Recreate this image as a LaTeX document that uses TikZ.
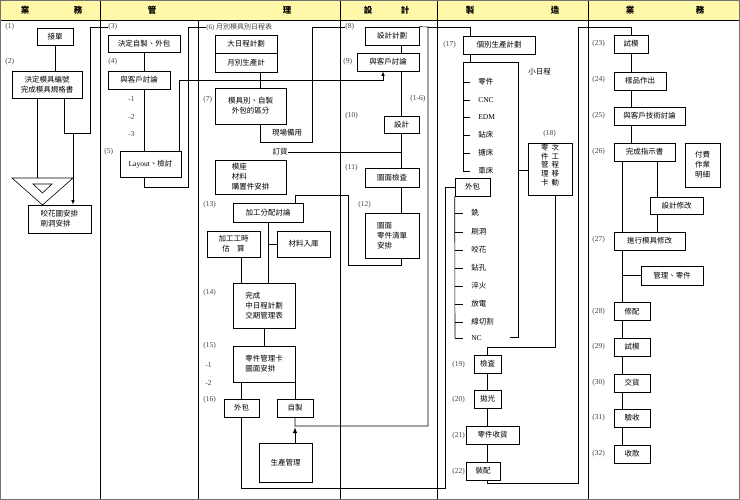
\documentclass[tikz,border=0pt]{standalone}
\usepackage{fontspec}
\setmainfont{Liberation Serif}
\newfontfamily\cjk{Noto Sans CJK TC}
\usetikzlibrary{calc, positioning, arrows}
\definecolor{headyellow}{HTML}{FFF8A8}

\begin{document}
\begin{tikzpicture}[x=1pt, y=-1pt, line width=.6pt,
  box/.style={draw, fill=white, inner sep=1pt, font=\cjk\fontsize{7.5}{10}\selectfont, align=center},
  num/.style={anchor=west, inner sep=0pt, font=\fontsize{7.5}{8}\selectfont, text=black!75},
  item/.style={anchor=west, inner sep=0pt, font=\cjk\fontsize{7.5}{9}\selectfont},
  head/.style={font=\cjk\bfseries\fontsize{8.5}{9}\selectfont}]
  \useasboundingbox (0,0) rectangle (740,500);
  % header and columns
  \fill[headyellow] (0,0) rectangle (740,20);
  \draw (0,20) -- (740,20);
  \foreach \x in {100,340,437,588} \draw (\x,0) -- (\x,500);
  \draw (198,20) -- (198,500);
  \draw[black!55, line width=1.5pt] (0,0) rectangle (740,500);
  \foreach \x/\t in {25/業, 78/務, 152/管, 287/理, 368/設, 405/計, 470/製, 555/造, 630/業, 700/務}
    \node[head] at (\x,10) {\t};

  % sales
  \node[num] (n1) at (5,27) {(1)};
  \node[box, minimum width=36, minimum height=17] (op) at (55,36.5) {接單};
  \node[num] (n2) at (5,62) {(2)};
  \node[box, minimum width=70, minimum height=27] (spec) at (47,84.5) {決定模具編號\\完成模具規格書};
  \coordinate (tri) at (37,178);
  \draw (12,178) -- (73,178) -- (42.5,205) -- cycle;
  \draw (33,184) -- (52,184) -- (42.5,193) -- cycle;
  \node[box, minimum width=63, minimum height=28, align=left] (knurl) at (59.5,219) {咬花圖安排\\刷洞安排};

  % management
  \node[num] (n3) at (108,27) {(3)};
  \node[box, minimum width=72, minimum height=17] (decide) at (144,43.5) {決定自製、外包};
  \node[num] (n4) at (108,62) {(4)};
  \node[box, minimum width=62, minimum height=18] (cust1) at (139,80) {與客戶討論};
  \foreach \y/\t in {99/-1, 117/-2, 134/-3} \node[num] at (128,\y) {\t};
  \node[num] (n5) at (104,152) {(5)};
  \node[box, minimum width=61, minimum height=26] (layout) at (150.5,164) {{\rmfamily Layout}、檢討};
  \node[num, font=\cjk\fontsize{7}{8}\selectfont] (n6) at (206,27) {{\rmfamily(6)} 月別模具別日程表};
  \node[box, minimum width=62, minimum height=18] (plan) at (246,44) {大日程計劃};
  \node[box, minimum width=62, minimum height=19] (month) at (246,62.5) {月別生產計};
  \node[num] (n7) at (203,100) {(7)};
  \node[box, minimum width=71, minimum height=36] (split) at (250.5,106) {模具別、自製\\外包的區分};
  \node[item, anchor=center] (spare) at (287,133) {現場備用};
  \node[item, anchor=center] (order) at (280,152) {訂貨};
  \node[box, minimum width=71, minimum height=34, align=left] (mold) at (250.5,177) {模座\\材料\\購置件安排};
  \node[num] (n13) at (203,205) {(13)};
  \node[box, minimum width=70, minimum height=19] (alloc) at (268,212.5) {加工分配討論};
  \node[box, minimum width=53, minimum height=26] (hours) at (233.5,244) {加工工時\\估\quad 算};
  \node[box, minimum width=53, minimum height=26] (stock) at (303.5,244) {材料入庫};
  \node[num] (n14) at (203,293) {(14)};
  \node[box, minimum width=62, minimum height=45, align=left] (mid) at (264,305.5) {完成\\中日程計劃\\交期管理表};
  \node[num] (n15) at (203,346) {(15)};
  \node[box, minimum width=62, minimum height=36, align=left] (card) at (264,364) {零件管理卡\\圖面安排};
  \node[num] at (205,365) {-1};
  \node[num] at (205,383) {-2};
  \node[num] (n16) at (203,400) {(16)};
  \node[box, minimum width=35, minimum height=18] (outs) at (241.5,408) {外包};
  \node[box, minimum width=36, minimum height=18] (self) at (295,408) {自製};
  \node[box, minimum width=53, minimum height=39, line width=1pt] (prod) at (285.5,462.5) {生產管理};

  % design
  \node[num] (n8) at (345,27) {(8)};
  \node[box, minimum width=54, minimum height=18] (dplan) at (392,36) {設計計劃};
  \node[num] (n9) at (343,62) {(9)};
  \node[box, minimum width=62, minimum height=18] (cust2) at (388,62) {與客戶討論};
  \node[num] (n1to6) at (410,99) {(1-6)};
  \node[num] (n10) at (345,116) {(10)};
  \node[box, minimum width=35, minimum height=17] (design) at (401.5,124.5) {設計};
  \node[num] (n11) at (345,168) {(11)};
  \node[box, minimum width=54, minimum height=19] (check) at (392,177.5) {圖面檢査};
  \node[num] (n12) at (358,205) {(12)};
  \node[box, minimum width=54, minimum height=45, align=left] (drw) at (392,235.5) {圖面\\零件清單\\安排};

  % manufacturing
  \node[num] (n17) at (443,45) {(17)};
  \node[box, minimum width=72, minimum height=18] (prodplan) at (499,45) {個別生產計劃};
  \node[item] (small) at (528,72) {小日程};
  \node[num] (n18) at (543,134) {(18)};
  \node[box, minimum width=44, minimum height=52, font=\cjk\fontsize{7.5}{8}\selectfont] (card2) at (550,169)
    {\begin{tabular}{@{}c@{\hspace{3pt}}c@{}}零&次\\件&工\\管&程\\理&移\\卡&動\end{tabular}\\[5pt]};
  \node[box, minimum width=35, minimum height=18] (outm) at (472.5,187) {外包};
  \node[num] (n19) at (452,365) {(19)};
  \node[box, minimum width=27, minimum height=18] (insp) at (487.5,364) {檢査};
  \node[num] (n20) at (452,400) {(20)};
  \node[box, minimum width=27, minimum height=18] (polish) at (487.5,399) {拋光};
  \node[num] (n21) at (452,436) {(21)};
  \node[box, minimum width=53, minimum height=18] (recv) at (492.5,435) {零件收貨};
  \node[num] (n22) at (452,472) {(22)};
  \node[box, minimum width=34, minimum height=18] (asm) at (483,471) {裝配};
  \draw (463,171) -- (463,62) -- (518,62) -- (518,337) -- (510,337);
  \foreach \y/\t [count=\i] in {82/零件, 100/{\rmfamily CNC}, 117/{\rmfamily EDM}, 135/鉆床, 153/搪床, 171/車床} {
    \draw (463,\y) -- (470,\y);
    \node[item] (it\i) at (478,\y) {\t};
  }
  \draw (outm.south west) -- (455,338);
  \foreach \y/\t [count=\i] in {213/銑, 232/刷洞, 250/咬花, 268/鉆孔, 286/淬火, 304/放電, 322/線切割, 338/{\rmfamily NC}} {
    \draw (455,\y) -- (463,\y);
    \node[item] (ot\i) at (471,\y) {\t};
  }

  % sales, right
  \node[num] (n23) at (592,44) {(23)};
  \node[box, minimum width=34, minimum height=18] (trial1) at (631,44) {試模};
  \node[num] (n24) at (592,80) {(24)};
  \node[box, minimum width=52, minimum height=18] (sample) at (640,81) {樣品作出};
  \node[num] (n25) at (592,116) {(25)};
  \node[box, minimum width=71, minimum height=18] (tech) at (649.5,116) {與客戶技術討論};
  \node[num] (n26) at (592,152) {(26)};
  \node[box, minimum width=61, minimum height=18] (instr) at (644.5,152) {完成指示書};
  \node[box, minimum width=35, minimum height=44] (fee) at (702.5,165) {付費\\作業\\明細};
  \node[box, minimum width=53, minimum height=17] (dmod) at (676.5,205.5) {設計修改};
  \node[num] (n27) at (592,240) {(27)};
  \node[box, minimum width=71, minimum height=18] (mmod) at (649.5,241) {進行模具修改};
  \node[box, minimum width=62, minimum height=19] (mgmt) at (672,275.5) {管理、零件};
  \foreach \y/\n/\t/\k in {311.5/fit/修配/28, 347/trial2/試模/29, 383/deliver/交貨/30, 418/accept/驗收/31, 454/pay/收款/32} {
    \node[num] (n\k) at (592,\y) {(\k)};
    \node[box, minimum width=36, minimum height=18] (\n) at (632,\y) {\t};
  }

  % connectors
  \draw (op.south) -- (op.south |- spec.north);
  \draw (spec.south -| tri) -- (tri);
  \coordinate (s2) at (73,133);
  \draw ($(spec.south)+(17,0)$) |- (90,133) |- (n3.west);
  \draw[-latex] (s2) -- (knurl.north -| s2);
  \draw (decide.south) -- (decide.south |- cust1.north);
  \draw (decide.south |- cust1.south) -- (decide.south |- layout.north);
  \draw (decide.south |- layout.south) -- ++(0,10) -| (188,27) -- (n6.west);
  \draw[-latex] ($(layout.north east)+(-2,0)$) |- ($(cust2.south)+(-5,9)$) -- ($(cust2.south)+(-5,0)$);
  \draw ($(month.south)+(14,0)$) -- ($(split.north)+(9.5,0)$);
  \draw ($(split.south)+(9.5,0)$) |- (312,142) |- (n8.west);
  \draw (order.east) -- (order.east -| design.south);
  \draw (drw.south -| design) |- (348,265) |- (295,195) -- ($(alloc.north)+(27,0)$);
  \draw (alloc.south) -- (alloc.south |- mid.north);
  \draw (alloc.south |- stock.west) -- (stock.west);
  \draw (hours.south -| outs) -- (mid.north -| outs);
  \draw (mid.south) -- (card.north);
  \draw (card.south -| outs) -- (outs.north);
  \draw (card.south -| self) -- (self.north);
  \coordinate (j8) at (428,27);
  \draw (self.south) |- (428,426) -- (j8) -- (dplan.north east);
  \draw (j8) -| (prodplan.north -| 470,0);
  \draw[-latex, line width=1pt] (prod.north -| self) -- ($(self.south)+(0,10)$);
  \draw (outs.south) |- (445,488) |- (outm.west);
  \draw (dplan.south -| design) -- (cust2.north -| design);
  \draw (cust2.south -| design) -- (design.north);
  \draw (design.south) -- (check.north -| design);
  \draw (check.south -| design) -- (drw.north -| design);
  \draw (prodplan.south -| 470,0) -- (470,62);
  \draw (518,170) -- (card2.west |- 0,170);
  \draw ($(card2.south)+(5,0)$) |- (insp.north |- 0,347) -- (insp.north);
  \draw (insp.south) -- (polish.north);
  \draw (polish.south) -- (polish.south |- recv.north);
  \draw (polish.south |- recv.south) -- (polish.south |- asm.north);
  \draw (polish.south |- asm.south) -- ++(0,3) -| (578,27) -| (trial1.north);
  \draw (trial1.south) -- (trial1.south |- sample.north);
  \draw (trial1.south |- sample.south) -- (trial1.south |- tech.north);
  \draw (trial1.south |- tech.south) -- (trial1.south |- instr.north);
  \draw ($(instr.south west)+(9,0)$) -- ($(mmod.north west)+(9,0)$);
  \draw ($(mmod.south west)+(9,0)$) -- ($(fit.north west)+(9,0)$);
  \draw (mgmt.west) -- ++(-18,0);
  \draw ($(dmod.north west)+(8,0)$) -- ++(0,-36);
  \draw ($(dmod.south west)+(8,0)$) -- ++(0,18);
  \foreach \a/\b in {fit/trial2, trial2/deliver, deliver/accept, accept/pay}
    \draw ($(\a.south west)+(9,0)$) -- ($(\b.north west)+(9,0)$);
\end{tikzpicture}
\end{document}
